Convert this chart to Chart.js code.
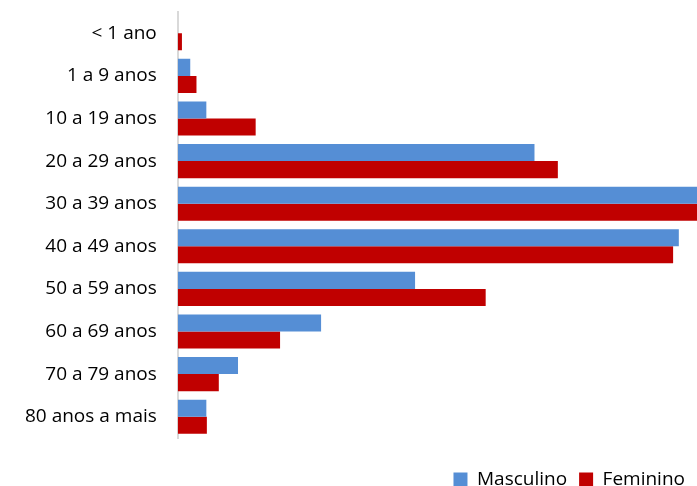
<!DOCTYPE html>
<html>
<head>
<meta charset="utf-8">
<script src="https://cdn.jsdelivr.net/npm/chart.js@4/dist/chart.umd.min.js"></script>
<style>
  html, body { margin: 0; padding: 0; background: #fff; }
  #wrap { width: 697px; height: 486px; }
</style>
</head>
<body>
<div id="wrap"><canvas id="barChart" width="697" height="486"></canvas></div>
<script>
// faixas etarias
var faixas = ['< 1 ano', '1 a 9 anos', '10 a 19 anos', '20 a 29 anos', '30 a 39 anos',
              '40 a 49 anos', '50 a 59 anos', '60 a 69 anos', '70 a 79 anos', '80 anos a mais'];
// valores (escala relativa, 30-39 passa do limite e fica cortado)
var masculino = [0, 2.4, 5.5, 68.7, 101, 96.5, 45.7, 27.6, 11.6, 5.5];
var feminino  = [0.8, 3.6, 15.0, 73.2, 101, 95.4, 59.3, 19.7, 7.9, 5.6];

var corAzul = '#558ed5';
var corVermelho = '#c00000';

var ctx = document.getElementById('barChart').getContext('2d');

new Chart(ctx, {
    type: 'bar',
    data: {
        labels: faixas,
        datasets: [
            {
                label: 'Masculino',
                data: masculino,
                backgroundColor: corAzul,
                borderWidth: 0,
                categoryPercentage: 0.8,
                barPercentage: 1.0
            },
            {
                label: 'Feminino',
                data: feminino,
                backgroundColor: corVermelho,
                borderWidth: 0,
                categoryPercentage: 0.8,
                barPercentage: 1.0
            }
        ]
    },
    options: {
        responsive: false,
        animation: false,
        indexAxis: 'y',
        layout: { padding: { top: 12, right: 0, left: 4, bottom: -13 } },
        scales: {
            x: {
                display: false,
                min: 0,
                max: 100
            },
            y: {
                grid: { display: false, drawTicks: false },
                border: { display: true, color: '#d9d9d9', width: 2 },
                ticks: {
                    color: '#000',
                    padding: 21,
                    font: { family: 'Open Sans', size: 19 }
                },
                // tira o espaco extra que o padding dos ticks coloca em cima/baixo
                afterFit: function (scale) {
                    scale.paddingTop = 0;
                    scale.paddingBottom = 0;
                }
            }
        },
        plugins: {
            tooltip: { enabled: false },
            legend: {
                position: 'bottom',
                align: 'end',
                title: {
                    display: true,
                    text: ' ',
                    font: { size: 10 },
                    padding: { top: 8, bottom: 0 }
                },
                labels: {
                    color: '#000',
                    boxWidth: 14,
                    boxHeight: 14,
                    padding: 12,
                    font: { family: 'Open Sans', size: 19 }
                }
            }
        }
    }
});
</script>
</body>
</html>
